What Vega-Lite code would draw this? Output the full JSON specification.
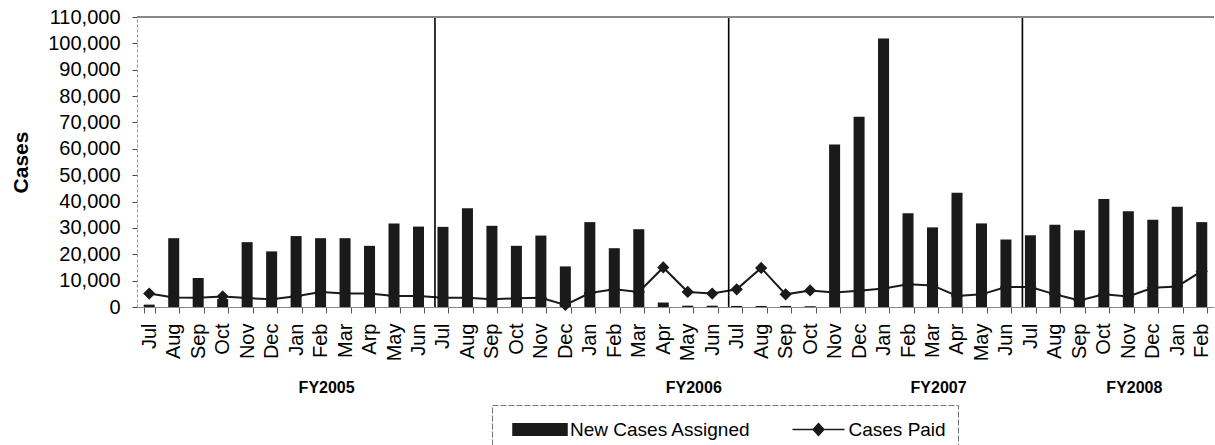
{
  "$schema": "https://vega.github.io/schema/vega-lite/v6.json",
  "padding": {"left": 10, "top": 7, "right": 0, "bottom": 0},
  "background": "white",
  "config": {
    "view": {"stroke": null},
    "font": "Liberation Sans",
    "concat": {"spacing": 17},
    "axisY": {
      "tickCount": 11,
      "labelOverlap": false,
      "labelFontSize": 20,
      "labelColor": "black",
      "grid": false,
      "domainColor": "#999",
      "domainDash": [3, 2],
      "tickColor": "#444",
      "tickSize": 5,
      "labelPadding": 12,
      "titleFontSize": 21,
      "titleFontWeight": "bold",
      "titleColor": "black",
      "titlePadding": 16
    },
    "axisX": {
      "labelAngle": -90,
      "labelFontSize": 20,
      "labelColor": "black",
      "labelOverlap": false,
      "tickBand": "extent",
      "domainColor": "#888",
      "tickColor": "#555",
      "tickSize": 6,
      "labelPadding": 10
    }
  },
  "data": {
    "values": [
      {"m": "Jul 2004", "a": 900, "p": 5100},
      {"m": "Aug 2004", "a": 26100, "p": 3600},
      {"m": "Sep 2004", "a": 11000, "p": 3500},
      {"m": "Oct 2004", "a": 3000, "p": 4000},
      {"m": "Nov 2004", "a": 24600, "p": 3400},
      {"m": "Dec 2004", "a": 21100, "p": 2900},
      {"m": "Jan 2005", "a": 26900, "p": 4100},
      {"m": "Feb 2005", "a": 26100, "p": 5700, "fy": "FY2005"},
      {"m": "Mar 2005", "a": 26100, "p": 5100},
      {"m": "Arp 2005", "a": 23200, "p": 5100},
      {"m": "May 2005", "a": 31700, "p": 4200},
      {"m": "Jun 2005", "a": 30500, "p": 4200},
      {"m": "Jul 2005", "a": 30400, "p": 3500},
      {"m": "Aug 2005", "a": 37500, "p": 3500},
      {"m": "Sep 2005", "a": 30800, "p": 2900},
      {"m": "Oct 2005", "a": 23200, "p": 3300},
      {"m": "Nov 2005", "a": 27100, "p": 3500},
      {"m": "Dec 2005", "a": 15400, "p": 800},
      {"m": "Jan 2006", "a": 32200, "p": 5300},
      {"m": "Feb 2006", "a": 22300, "p": 6700},
      {"m": "Mar 2006", "a": 29500, "p": 5700},
      {"m": "Apr 2006", "a": 1700, "p": 15000},
      {"m": "May 2006", "a": 500, "p": 5700, "fy": "FY2006"},
      {"m": "Jun 2006", "a": 500, "p": 5100},
      {"m": "Jul 2006", "a": 400, "p": 6700},
      {"m": "Aug 2006", "a": 400, "p": 14800},
      {"m": "Sep 2006", "a": 400, "p": 4800},
      {"m": "Oct 2006", "a": 300, "p": 6300},
      {"m": "Nov 2006", "a": 61600, "p": 5500},
      {"m": "Dec 2006", "a": 72200, "p": 6200},
      {"m": "Jan 2007", "a": 101800, "p": 7000},
      {"m": "Feb 2007", "a": 35600, "p": 8600},
      {"m": "Mar 2007", "a": 30200, "p": 8200, "fy": "FY2007"},
      {"m": "Apr 2007", "a": 43300, "p": 4200},
      {"m": "May 2007", "a": 31700, "p": 4800},
      {"m": "Jun 2007", "a": 25600, "p": 7600},
      {"m": "Jul 2007", "a": 27200, "p": 7600},
      {"m": "Aug 2007", "a": 31200, "p": 4800},
      {"m": "Sep 2007", "a": 29100, "p": 2500},
      {"m": "Oct 2007", "a": 41000, "p": 4800},
      {"m": "Nov 2007", "a": 36300, "p": 4000, "fy": "FY2008"},
      {"m": "Dec 2007", "a": 33100, "p": 7300},
      {"m": "Jan 2008", "a": 38000, "p": 7800},
      {"m": "Feb 2008", "a": 32200, "p": 13600}
    ]
  },
  "vconcat": [
    {
      "width": 1077,
      "height": 290,
      "layer": [
        {
          "mark": {"type": "bar", "color": "#1a1a1a"},
          "encoding": {
            "x": {
              "field": "m",
              "type": "ordinal",
              "sort": null,
              "scale": {"paddingInner": 0.55, "paddingOuter": 0.275},
              "axis": {
                "title": null,
                "labelExpr": "isValid(datum.value) ? split(datum.value, ' ')[0] : ''"
              }
            },
            "y": {
              "field": "a",
              "type": "quantitative",
              "scale": {"domain": [0, 110000], "nice": false},
              "axis": {"title": "Cases"}
            },
            "color": {
              "datum": "New Cases Assigned",
              "scale": {"domain": ["New Cases Assigned", "Cases Paid"], "range": ["#1a1a1a", "#1a1a1a"]},
              "legend": {
                "title": null,
                "orient": "none",
                "legendX": 355,
                "legendY": 388,
                "direction": "horizontal",
                "symbolSize": 576,
                "symbolStrokeWidth": 1.5,
                "symbolOffset": 23.5,
                "labelOffset": 17,
                "labelLimit": 400,
                "columnPadding": 30.5,
                "padding": 11.5,
                "labelFontSize": 19,
                "labelFont": "Liberation Sans",
                "labelColor": "black",
                "strokeColor": "#777",
                "encode": {
                  "symbols": {
                    "update": {
                      "shape": {"signal": "datum.value === 'Cases Paid' ? 'M-2.17,0H2.17M0,-0.5L0.45,0L0,0.5L-0.45,0Z' : 'M-2.25,-0.48H2.25V0.48H-2.25Z'"},
                      "fill": {"value": "#1a1a1a"},
                      "stroke": {"value": "#1a1a1a"},
                      "strokeWidth": {"value": 1.5},
                      "opacity": {"value": 1}
                    }
                  },
                  "legend": {"update": {"strokeDash": {"value": [6, 2]}}}
                }
              }
            }
          }
        },
        {
          "mark": {"type": "line", "strokeWidth": 2},
          "encoding": {
            "x": {"field": "m", "type": "ordinal", "sort": null},
            "y": {"field": "p", "type": "quantitative"},
            "color": {"datum": "Cases Paid"}
          }
        },
        {
          "mark": {"type": "point", "shape": "diamond", "filled": true, "size": 150, "color": "#1a1a1a", "opacity": 1},
          "encoding": {
            "x": {"field": "m", "type": "ordinal", "sort": null},
            "y": {"field": "p", "type": "quantitative"}
          }
        },
        {
          "transform": [{"filter": "slice(datum.m, 0, 3) === 'Jul' && datum.m !== 'Jul 2004'"}],
          "mark": {"type": "rule", "color": "#000", "strokeWidth": 1.6, "xOffset": -2.5},
          "encoding": {
            "x": {"field": "m", "type": "ordinal", "sort": null, "bandPosition": 0}
          }
        },
        {
          "mark": {"type": "rule", "color": "#888", "strokeWidth": 1},
          "encoding": {"y": {"datum": 110000}}
        }
      ]
    },
    {
      "width": 1077,
      "height": 20,
      "transform": [{"filter": "isValid(datum.fy)"}],
      "mark": {"type": "text", "fontWeight": "bold", "fontSize": 16, "color": "black", "font": "Liberation Sans"},
      "encoding": {
        "x": {"field": "m", "type": "ordinal", "sort": null, "bandPosition": 1.05, "axis": null},
        "text": {"field": "fy"}
      }
    }
  ],
  "resolve": {"scale": {"x": "shared"}}
}
